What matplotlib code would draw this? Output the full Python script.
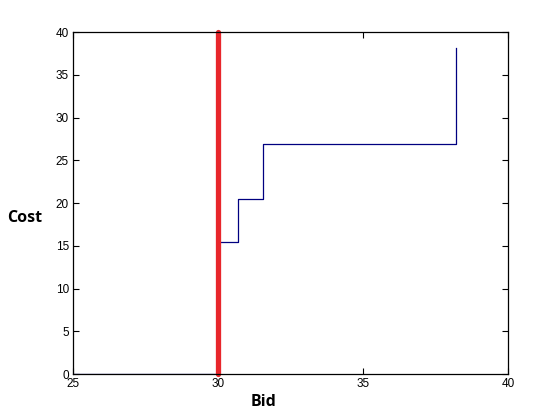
import matplotlib
matplotlib.use('Agg')
import matplotlib.pyplot as plt

# step curve: bid vs cost
bid = [25, 30, 30.7, 31.55, 38.2]
cost = [0, 15.4, 20.5, 26.85, 38.1]
# vertical marker at the chosen bid
mark_x = [30, 30]
mark_y = [0, 40]

xticks = [25, 30, 35, 40]
yticks = [0, 5, 10, 15, 20, 25, 30, 35, 40]

fig = plt.figure(figsize=(5.6, 4.2), dpi=100)
ax = fig.add_axes([0.1304, 0.1095, 0.7766, 0.8143])

ax.plot(bid, cost, drawstyle='steps-post', color='#000080', lw=0.9)
ax.plot(mark_x, mark_y, color='#e8262b', lw=3.8, solid_capstyle='round', clip_on=False)

ax.set_xlim(25, 40)
ax.set_ylim(0, 40)
ax.set_xticks(xticks)
ax.set_yticks(yticks)
ax.tick_params(direction='in', top=True, right=True, length=4, width=0.8,
               labelsize=8.5, pad=3)
for lab in ax.get_xticklabels() + ax.get_yticklabels():
    lab.set_fontfamily('Liberation Sans')
for s in ax.spines.values():
    s.set_linewidth(0.9)

ax.set_xlabel('Bid', fontsize=11.5, fontweight='bold', family='Open Sans')
ax.xaxis.set_label_coords(0.439, -0.058)
ax.set_ylabel('Cost', fontsize=11.5, fontweight='bold', family='Open Sans',
              rotation=0, va='center', ha='right')
ax.yaxis.set_label_coords(-0.07, 0.456)

fig.savefig('out.png', dpi=100)
